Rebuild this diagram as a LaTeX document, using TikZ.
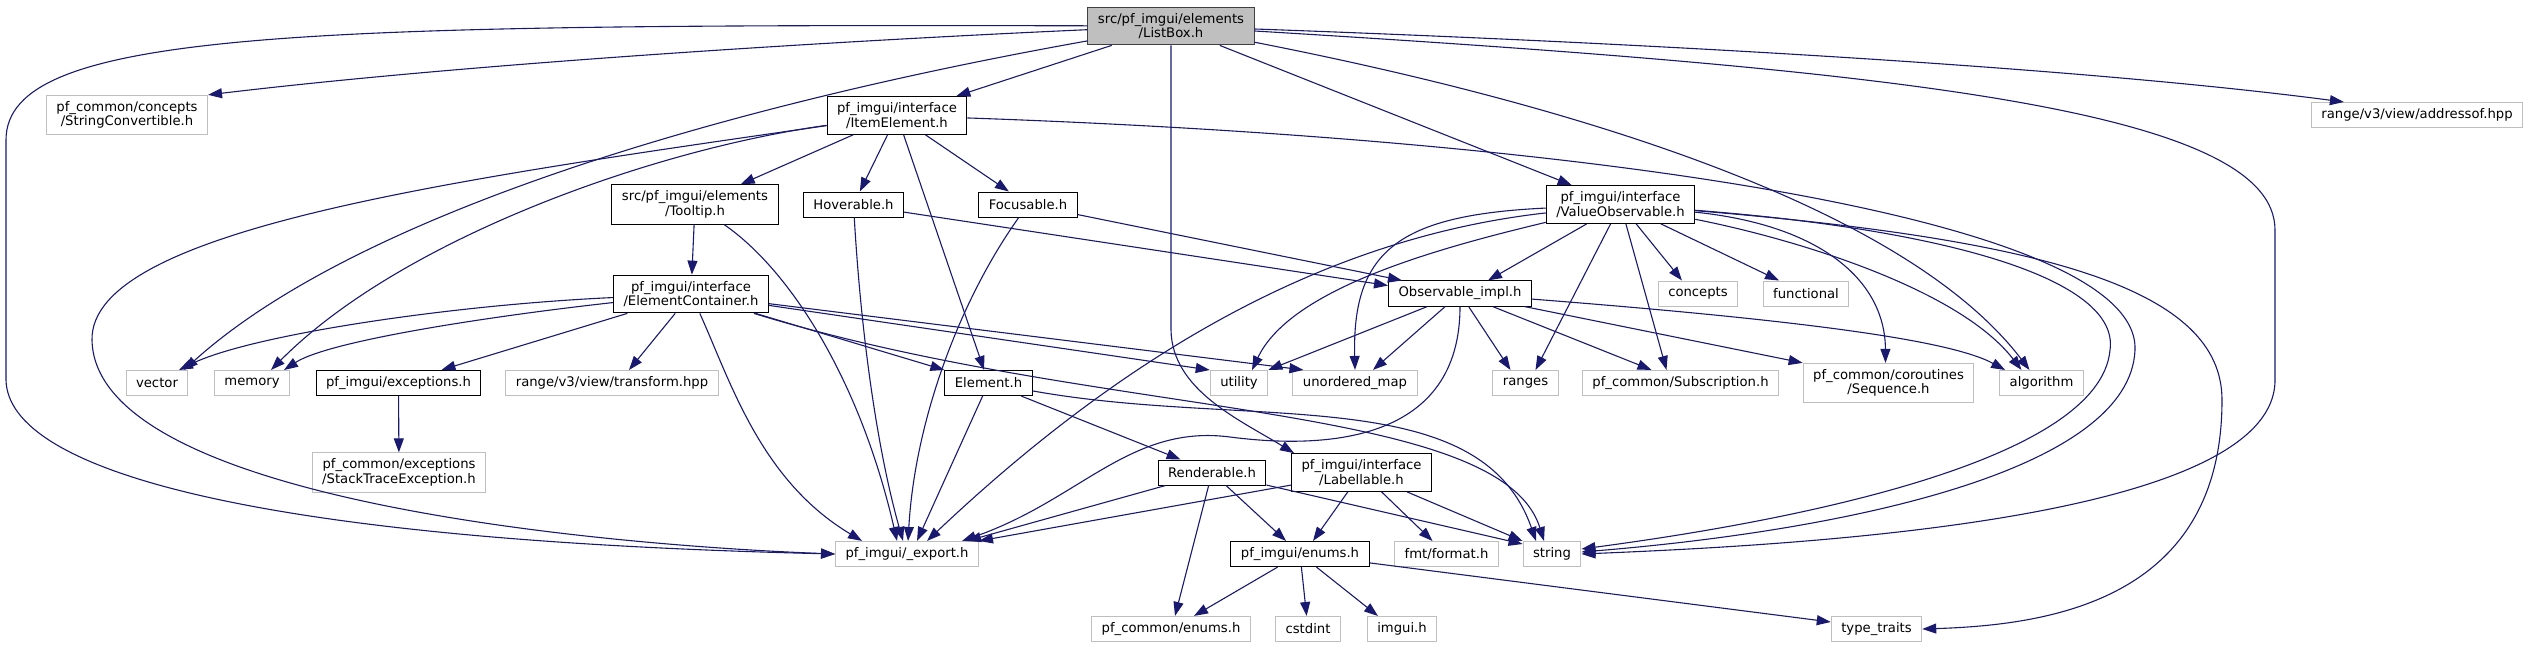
\documentclass[tikz,border=0pt]{standalone}
\usepackage{fontspec}
\setmainfont{DejaVu Sans}
\usetikzlibrary{arrows.meta}
\definecolor{EdgeClr}{rgb}{0.098,0.098,0.439}
\definecolor{GrayClr}{rgb}{0.749,0.749,0.749}
\definecolor{RootClr}{rgb}{0.251,0.251,0.251}

\begin{document}
\begin{tikzpicture}[x=1pt,y=-1pt,
  box/.style={draw,fill=white,line width=1pt,align=center,inner xsep=10pt,inner ysep=6pt,
    minimum height=25pt,font=\fontsize{13.2}{14.5}\selectfont},
  rootbox/.style={box,draw=RootClr,fill=GrayClr},
  docbox/.style={box,draw=black},
  extbox/.style={box,draw=GrayClr},
  inclink/.style={draw=EdgeClr,line width=1.1pt,-{Triangle[length=14pt,width=10pt]}}]
\useasboundingbox (0,0) rectangle (2524,648);

\node[rootbox] (LB) at (1171,26) {src/pf\_imgui/elements\\/ListBox.h};
\node[extbox] (SC) at (127,115) {pf\_common/concepts\\/StringConvertible.h};
\node[docbox] (IE) at (897,115.5) {pf\_imgui/interface\\/ItemElement.h};
\node[extbox] (AO) at (2417,115) {range/v3/view/addressof.hpp};
\node[docbox] (TT) at (695,204.5) {src/pf\_imgui/elements\\/Tooltip.h};
\node[docbox] (HV) at (853.5,204.5) {Hoverable.h};
\node[docbox] (FC) at (1028,204.5) {Focusable.h};
\node[docbox] (VO) at (1620.5,204.5) {pf\_imgui/interface\\/ValueObservable.h};
\node[docbox] (EC) at (691,294) {pf\_imgui/interface\\/ElementContainer.h};
\node[docbox] (OI) at (1460,293.5) {Observable\_impl.h};
\node[extbox] (CO) at (1698,293.5) {concepts};
\node[extbox] (FN) at (1806,293.5) {functional};
\node[extbox] (VE) at (157,383) {vector};
\node[extbox] (ME) at (252,383) {memory};
\node[docbox] (EX) at (398.5,383) {pf\_imgui/exceptions.h};
\node[extbox] (TR) at (612,383) {range/v3/view/transform.hpp};
\node[docbox] (EL) at (988.5,383) {Element.h};
\node[extbox] (UT) at (1239,383) {utility};
\node[extbox] (UM) at (1355,383) {unordered\_map};
\node[extbox] (RG) at (1525.5,383) {ranges};
\node[extbox] (SU) at (1680.5,383) {pf\_common/Subscription.h};
\node[extbox] (SQ) at (1888.5,383) {pf\_common/coroutines\\/Sequence.h};
\node[extbox] (AL) at (2041.5,383) {algorithm};
\node[extbox] (ST) at (399,472.5) {pf\_common/exceptions\\/StackTraceException.h};
\node[docbox] (RE) at (1212,472.5) {Renderable.h};
\node[docbox] (LA) at (1361.5,472.5) {pf\_imgui/interface\\/Labellable.h};
\node[extbox] (EP) at (907,554) {pf\_imgui/\_export.h};
\node[docbox] (EN) at (1300,554) {pf\_imgui/enums.h};
\node[extbox] (FM) at (1446.5,554) {fmt/format.h};
\node[extbox] (STR) at (1552,554) {string};
\node[extbox] (PE) at (1171,629) {pf\_common/enums.h};
\node[extbox] (CI) at (1308,629) {cstdint};
\node[extbox] (IG) at (1402,629) {imgui.h};
\node[extbox] (TY) at (1876.5,629) {type\_traits};

% ListBox.h
\draw[inclink] (LB) .. controls (300,24) and (6,30) .. (6,140) -- (6,380) .. controls (8,470) and (250,540) .. (EP.west);
\draw[inclink] (LB) .. controls (900,38) and (500,60) .. (SC.north east);
\draw[inclink] (LB) .. controls (700,110) and (350,220) .. ([xshift=27]VE.north);
\draw[inclink] (LB) -- (IE);
\draw[inclink] (LB.south) -- (1171,330) .. controls (1172,390) and (1240,420) .. ([xshift=3]LA.north west);
\draw[inclink] (LB) -- (VO);
\draw[inclink] (LB) .. controls (1700,45) and (2100,70) .. ([xshift=33]AO.north west);
\draw[inclink] (LB) .. controls (1900,70) and (2275,110) .. (2275,230) -- (2275,380) .. controls (2275,520) and (1800,545) .. (STR.east);
\draw[inclink] (LB) .. controls (1550,100) and (1900,200) .. ([xshift=-12]AL.north);

% ItemElement.h
\draw[inclink] (IE) -- (TT);
\draw[inclink] (IE) -- (HV);
\draw[inclink] (IE) -- (FC);
\draw[inclink] (IE) -- (EL);
\draw[inclink] (IE) .. controls (650,150) and (400,240) .. ([xshift=19]ME.north);
\draw[inclink] (IE) .. controls (450,180) and (90,230) .. (92,340) .. controls (95,500) and (600,545) .. (EP.west);
\draw[inclink] (IE) .. controls (1600,140) and (2140,220) .. (2135,350) .. controls (2130,470) and (1850,530) .. ([yshift=2]STR.east);

\draw[inclink] (TT) -- (EC);
\draw[inclink] (TT) .. controls (790,270) and (860,380) .. ([xshift=62]EP.north west);

\draw[inclink] (HV) -- ([yshift=8]OI.west);
\draw[inclink] (HV) .. controls (862,350) and (880,460) .. ([xshift=68]EP.north west);
\draw[inclink] (FC) -- ([xshift=14]OI.north west);
\draw[inclink] (FC) .. controls (960,300) and (915,420) .. ([xshift=73]EP.north west);

% ElementContainer.h
\draw[inclink] (EC) .. controls (450,305) and (250,335) .. ([xshift=22]VE.north);
\draw[inclink] (EC) .. controls (500,315) and (330,340) .. ([xshift=32]ME.north);
\draw[inclink] (EC) -- ([xshift=43]EX.north);
\draw[inclink] (EC) -- ([xshift=17]TR.north);
\draw[inclink] (EC) .. controls (730,380) and (760,480) .. ([xshift=27]EP.north west);
\draw[inclink] (EC) -- (EL.north west);
\draw[inclink] (EC) -- (UT.north west);
\draw[inclink] (EC) -- ([xshift=11]UM.north west);
\draw[inclink] (EC) .. controls (1100,420) and (1500,400) .. ([xshift=-8]STR.north);

\draw[inclink] (EX) -- (ST);

\draw[inclink] (EL) -- ([xshift=23]RE.north west);
\draw[inclink] (EL) -- ([xshift=82]EP.north west);
\draw[inclink] (EL) .. controls (1250,430) and (1480,380) .. ([xshift=-16]STR.north);

\draw[inclink] (RE) -- ([xshift=132]EP.north west);
\draw[inclink] (RE) -- ([xshift=-14]EN.north);
\draw[inclink] (RE) -- ([xshift=4]PE.north);
\draw[inclink] (RE) -- ([yshift=-3]STR.north west);

\draw[inclink] (LA) -- (EP.north east);
\draw[inclink] (LA) -- ([xshift=13]EN.north);
\draw[inclink] (LA) -- ([xshift=-14]FM.north);
\draw[inclink] (LA) -- (STR.north west);

\draw[inclink] (EN) -- ([xshift=23]PE.north);
\draw[inclink] (EN) -- (CI);
\draw[inclink] (EN) -- ([xshift=-24]IG.north);
\draw[inclink] (EN) -- ([yshift=7]TY.west);

% ValueObservable.h
\draw[inclink] (VO) -- ([xshift=28]OI.north);
\draw[inclink] (VO) -- ([xshift=-16]CO.north);
\draw[inclink] (VO) -- ([xshift=-27]FN.north);
\draw[inclink] (VO) -- ([xshift=10]RG.north);
\draw[inclink] (VO) -- ([xshift=-14]SU.north);
\draw[inclink] (VO) .. controls (1820,225) and (1885,280) .. ([xshift=-3]SQ.north);
\draw[inclink] (VO) .. controls (1800,240) and (1960,290) .. ([xshift=-20]AL.north);
\draw[inclink] (VO) .. controls (1430,250) and (1290,290) .. ([xshift=13]UT.north);
\draw[inclink] (VO) .. controls (1400,215) and (1352,250) .. (UM.north);
\draw[inclink] (VO) .. controls (1350,235) and (1150,330) .. ([xshift=92]EP.north west);
\draw[inclink] (VO) .. controls (1950,230) and (2120,280) .. (2110,350) .. controls (2100,460) and (1800,520) .. ([yshift=5]STR.east);
\draw[inclink] (VO) .. controls (2050,240) and (2222,290) .. (2222,400) .. controls (2222,600) and (2050,625) .. (TY.east);

\draw[inclink] (OI) -- (UT.north east);
\draw[inclink] (OI) -- ([xshift=18]UM.north);
\draw[inclink] (OI) -- ([xshift=-15]RG.north);
\draw[inclink] (OI) -- ([xshift=-29]SU.north);
\draw[inclink] (OI) -- (SQ.north west);
\draw[inclink] (OI) .. controls (1800,320) and (1950,340) .. ([xshift=6]AL.north west);
\draw[inclink] (OI) .. controls (1460,440) and (1330,450) .. (1230,437) .. controls (1130,424) and (1080,500) .. ([xshift=127]EP.north west);

\end{tikzpicture}
\end{document}
